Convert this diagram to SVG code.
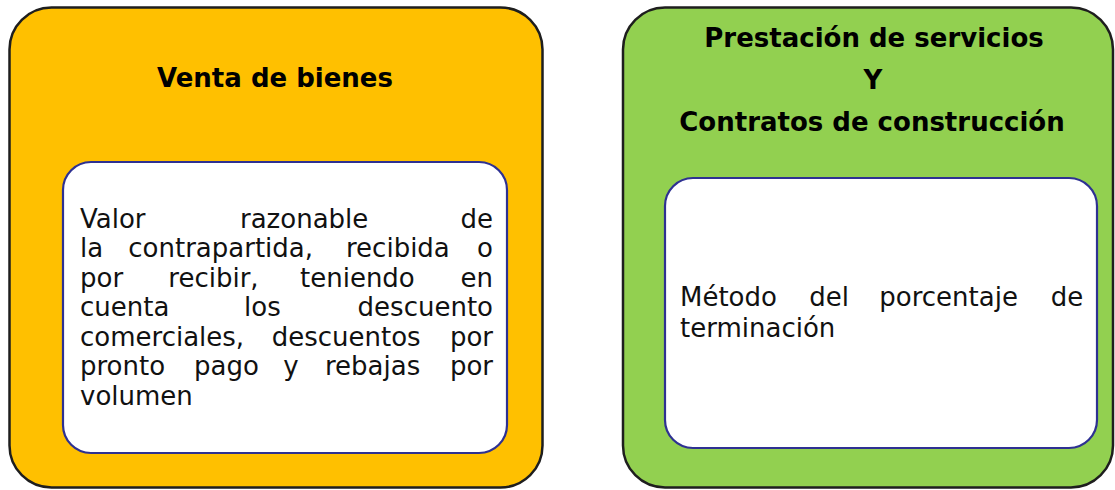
<svg xmlns="http://www.w3.org/2000/svg" width="1115" height="490" viewBox="0 0 1115 490">
<style>
.outer{stroke:#1e1e1e;stroke-width:2.5}
.inner{fill:#ffffff;stroke:#2e3192;stroke-width:2.2}
.title{font-family:"DejaVu Sans","Verdana",sans-serif;font-weight:bold;font-size:26px;fill:#000;text-anchor:middle}
.body{font-family:"DejaVu Sans","Verdana",sans-serif;font-size:26px;fill:#111}
.r{text-anchor:end}
</style>
<rect width="1115" height="490" fill="#ffffff"/>
<g id="venta-bienes">
<rect class="outer" x="9.5" y="7.5" width="533" height="480" rx="42" ry="42" fill="#ffc000"/>
<text class="title" x="275" y="87">Venta de bienes</text>
<rect class="inner" x="63" y="162" width="444" height="291" rx="28" ry="28"/>
<text class="body" x="80" y="227.5">Valor</text>
<text class="body" x="240" y="227.5">razonable</text>
<text class="body r" x="493" y="227.5">de</text>
<text class="body" x="80" y="257">la</text>
<text class="body" x="128.3" y="257">contrapartida,</text>
<text class="body" x="346" y="257">recibida</text>
<text class="body r" x="493" y="257">o</text>
<text class="body" x="80" y="286.5">por</text>
<text class="body" x="168.3" y="286.5">recibir,</text>
<text class="body" x="300" y="286.5">teniendo</text>
<text class="body r" x="493" y="286.5">en</text>
<text class="body" x="80" y="316">cuenta</text>
<text class="body" x="244" y="316">los</text>
<text class="body r" x="493" y="316">descuento</text>
<text class="body" x="80" y="345.5">comerciales,</text>
<text class="body" x="271.7" y="345.5">descuentos</text>
<text class="body r" x="493" y="345.5">por</text>
<text class="body" x="80" y="375">pronto</text>
<text class="body" x="194" y="375">pago</text>
<text class="body" x="283.3" y="375">y</text>
<text class="body" x="325" y="375">rebajas</text>
<text class="body r" x="493" y="375">por</text>
<text class="body" x="80" y="404.5">volumen</text>
</g>
<g id="prestacion-servicios">
<rect class="outer" x="623" y="7.5" width="490" height="480" rx="42" ry="42" fill="#92d050"/>
<text class="title" x="874" y="47">Prestación de servicios</text>
<text class="title" x="873" y="89">Y</text>
<text class="title" x="872" y="131">Contratos de construcción</text>
<rect class="inner" x="665" y="178" width="432" height="270" rx="28" ry="28"/>
<text class="body" x="680" y="306">Método</text>
<text class="body" x="809.3" y="306">del</text>
<text class="body" x="879.3" y="306">porcentaje</text>
<text class="body r" x="1083.3" y="306">de</text>
<text class="body" x="680" y="336.7">terminación</text>
</g>
<g id="connectors"></g>
</svg>
